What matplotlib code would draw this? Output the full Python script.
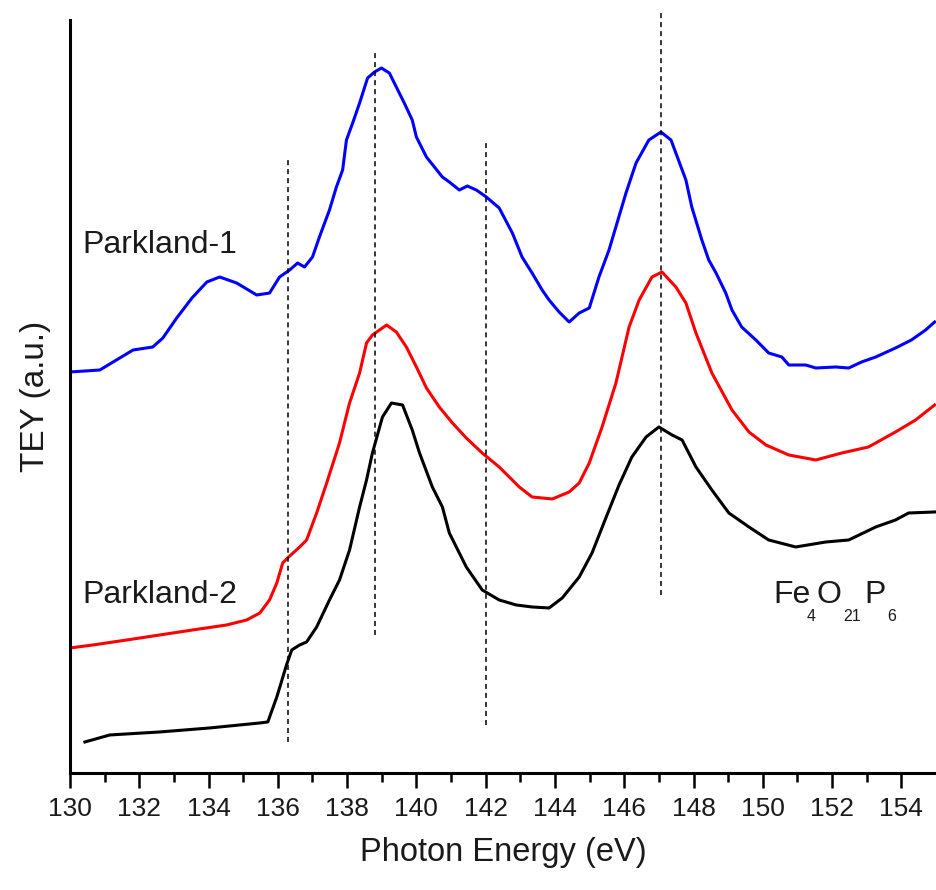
import matplotlib
matplotlib.use('Agg')
import matplotlib.pyplot as plt

plt.rcParams['font.family'] = ['Liberation Sans', 'DejaVu Sans']

# Parkland-1 (blue)
e_p1 = [130.00, 130.86, 131.82, 132.39, 132.68, 133.08, 133.52, 133.95, 134.32, 134.81,
        135.39, 135.76, 136.05, 136.34, 136.57, 136.77, 137.00, 137.20, 137.49, 137.69,
        137.87, 137.98, 138.16, 138.36, 138.59, 138.79, 138.99, 139.22, 139.42, 139.65,
        139.88, 140.00, 140.29, 140.75, 140.95, 141.24, 141.47, 141.73, 142.02, 142.39,
        142.77, 143.05, 143.34, 143.63, 143.83, 144.12, 144.41, 144.70, 144.99, 145.27,
        145.56, 146.05, 146.34, 146.71, 147.06, 147.35, 147.49, 147.78, 147.95, 148.24,
        148.44, 148.65, 148.93, 149.11, 149.39, 149.80, 150.17, 150.55, 150.75, 151.24,
        151.53, 152.10, 152.48, 152.85, 153.26, 153.83, 154.29, 154.70, 154.96]
tey_p1 = [401, 403, 423, 426, 435, 455, 475, 491, 496, 490,
          478, 480, 496, 503, 510, 506, 516, 536, 563, 586,
          603, 633, 650, 670, 695, 701, 705, 700, 686, 670,
          653, 636, 616, 596, 591, 583, 587, 583, 576, 565,
          540, 516, 500, 483, 473, 461, 451, 460, 465, 496,
          523, 580, 610, 633, 641, 633, 620, 593, 566, 533,
          513, 500, 480, 463, 446, 433, 420, 416, 408, 408,
          405, 406, 405, 411, 416, 425, 433, 443, 451]

# Parkland-2 (red)
e_p2 = [130.00, 130.66, 131.64, 132.59, 133.54, 134.52, 135.10, 135.48, 135.76, 135.97,
        136.14, 136.28, 136.63, 136.83, 137.12, 137.41, 137.78, 138.07, 138.36, 138.56,
        138.73, 139.14, 139.42, 139.71, 140.00, 140.29, 140.66, 141.04, 141.44, 141.90,
        142.39, 142.97, 143.34, 143.92, 144.41, 144.70, 144.99, 145.36, 145.76, 146.14,
        146.43, 146.80, 147.09, 147.49, 147.78, 148.07, 148.53, 149.11, 149.60, 150.09,
        150.75, 151.53, 152.28, 153.05, 153.83, 154.41, 154.96]
tey_p2 = [125, 128, 133, 138, 143, 148, 153, 160, 173, 190,
          210, 215, 226, 233, 260, 290, 330, 370, 400, 430,
          438, 448, 441, 426, 406, 385, 366, 350, 335, 320,
          306, 286, 276, 274, 281, 290, 310, 346, 390, 446,
          473, 496, 501, 486, 470, 440, 400, 363, 341, 328,
          318, 313, 320, 326, 341, 353, 368]

# Fe4O21P6 reference (black)
e_ref = [130.43, 131.15, 132.59, 134.03, 135.48, 135.71, 135.97, 136.25, 136.40, 136.63,
         136.83, 137.12, 137.49, 137.78, 138.07, 138.36, 138.56, 138.73, 139.02, 139.28,
         139.60, 139.88, 140.09, 140.46, 140.75, 140.95, 141.44, 141.90, 142.39, 142.88,
         143.34, 143.83, 144.21, 144.70, 145.07, 145.48, 145.85, 146.22, 146.63, 147.00,
         147.38, 147.67, 148.07, 148.53, 149.02, 149.60, 150.17, 150.95, 151.82, 152.48,
         153.26, 153.83, 154.21, 154.96]
tey_ref = [31, 38, 41, 45, 50, 51, 76, 108, 123, 128,
           131, 146, 173, 193, 223, 266, 293, 320, 356, 370,
           368, 343, 320, 286, 266, 240, 206, 183, 173, 168,
           166, 165, 175, 196, 220, 256, 288, 316, 336, 346,
           338, 333, 306, 283, 260, 246, 233, 226, 231, 233,
           246, 253, 260, 261]

# guide lines: energy, lower end, upper end
guide_e = [136.3, 138.8, 142.0, 147.05]
guide_lo = [31, 138, 48, 178]
guide_hi = [615, 721, 631, 763]

txt = '#1a1a1a'

fig = plt.figure(figsize=(9.36, 8.9), dpi=100)
ax = fig.add_axes([0.0748, 0.1315, 0.9252, 0.846])

ax.plot(e_p1, tey_p1, color='#0000ff', lw=2.2)
ax.plot(e_p2, tey_p2, color='#ff0000', lw=2.2)
ax.plot(e_ref, tey_ref, color='black', lw=2.2)

for e, lo, hi in zip(guide_e, guide_lo, guide_hi):
    ax.plot([e, e], [lo, hi], color='black', lw=1.1, dashes=(3.3, 2.6), clip_on=False)

ax.text(130.35, 520, 'Parkland-1', fontsize=23, color=txt, va='baseline')
ax.text(130.35, 170, 'Parkland-2', fontsize=23, color=txt, va='baseline')

# formula with low, small subscripts
fe = ax.text(150.3, 170, 'Fe', fontsize=23, color=txt, va='baseline')
s4 = ax.annotate('4', xy=(1, 0), xycoords=fe, xytext=(-3, 1), textcoords='offset points',
                 fontsize=11.5, color=txt, va='top')
o = ax.annotate('O', xy=(1, 0), xycoords=(s4, fe), xytext=(1, 0), textcoords='offset points',
                fontsize=23, color=txt, va='bottom')
s21 = ax.annotate('21', xy=(1, 0), xycoords=o, xytext=(1, 1), textcoords='offset points',
                  fontsize=11.5, color=txt, va='top')
p = ax.annotate('P', xy=(1, 0), xycoords=(s21, fe), xytext=(3, 0), textcoords='offset points',
                fontsize=23, color=txt, va='bottom')
ax.annotate('6', xy=(1, 0), xycoords=p, xytext=(1, 1), textcoords='offset points',
            fontsize=11.5, color=txt, va='top')

ax.set_xlim(130, 155)
ax.set_ylim(0, 753)
ax.set_xticks(range(130, 155, 2))
ax.set_xticks(range(131, 155, 2), minor=True)
ax.set_yticks([])
ax.tick_params(axis='x', which='major', direction='out', length=11, width=1.8,
               labelsize=19, pad=6, labelcolor=txt)
ax.tick_params(axis='x', which='minor', direction='out', length=6.5, width=1.8)

for side in ['top', 'right']:
    ax.spines[side].set_visible(False)
for side in ['left', 'bottom']:
    ax.spines[side].set_linewidth(2.2)

ax.set_xlabel('Photon Energy (eV)', fontsize=23.5, color=txt, labelpad=12)
ax.set_ylabel('TEY (a.u.)', fontsize=24, color=txt, labelpad=14)

fig.savefig('out.png', dpi=100)
